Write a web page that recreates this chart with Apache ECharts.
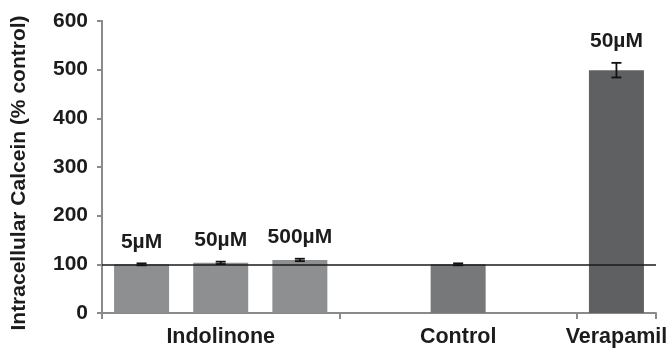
<!DOCTYPE html>
<html><head><meta charset="utf-8">
<script src="https://cdn.jsdelivr.net/npm/echarts@6/dist/echarts.min.js"></script>
<style>html,body{margin:0;padding:0;background:#fff}#c{width:672px;height:352px}</style>
</head><body><div id="c"></div>
<script>
// Data
const slots = ['Indolinone 5µM','Indolinone 50µM','Indolinone 500µM','gap A','Control','gap B','Verapamil 50µM'];
const values = [100, 103, 109, null, 100, null, 499];
const errors = [2, 2.5, 2.5, null, 2, null, 15];
const doseLabels = ['5µM','50µM','500µM','','','','50µM'];
const groupLabels = ['','Indolinone','','','Control','','Verapamil'];
const yMin = 0, yMax = 600, yStep = 100;
const referenceLevel = 100;

// Styles
const barColors = ['#8e8f91','#8e8f91','#8e8f91',null,'#77787a',null,'#5f6062'];
const FONT = 'Liberation Sans';
const axisGray = '#8a8a8a';
const textColor = '#1c1c1c';

const chart = echarts.init(document.getElementById('c'), null, {renderer:'canvas'});
chart.setOption({
  animation:false,
  backgroundColor:'#fff',
  grid:{left:102,right:16,top:21,bottom:39},
  xAxis:{
    type:'category', data:slots, boundaryGap:true,
    axisLine:{lineStyle:{color:axisGray,width:2}},
    axisTick:{show:true,length:6,lineStyle:{color:axisGray,width:2},
      interval:function(i){return i===0||i===3||i===6;}},
    axisLabel:{interval:0,margin:13,formatter:function(v,i){return groupLabels[i];},
      fontFamily:FONT,fontWeight:'bold',fontSize:21.5,color:textColor}
  },
  yAxis:{
    type:'value', min:yMin, max:yMax, interval:yStep,
    name:'Intracellular Calcein (% control)', nameLocation:'middle', nameGap:72,
    nameTextStyle:{fontFamily:FONT,fontWeight:'bold',fontSize:21,color:textColor,padding:[0,12,0,0]},
    axisLine:{show:true,lineStyle:{color:axisGray,width:2}},
    axisTick:{show:true,length:5,lineStyle:{color:axisGray,width:2}},
    splitLine:{show:false},
    axisLabel:{margin:14,fontFamily:FONT,fontWeight:'bold',fontSize:21,color:textColor}
  },
  series:[
    {
      type:'bar', barWidth:55,
      data:values.map(function(v,i){return v==null?null:{value:v,itemStyle:{color:barColors[i]}};}),
      markLine:{silent:true,symbol:'none',label:{show:false},
        lineStyle:{color:'#1a1a1a',width:1.6,type:'solid'},
        data:[{yAxis:referenceLevel}]},
      z:2
    },
    {
      type:'custom', z:5,
      data:values.map(function(v,i){return [i, v, errors[i]];}),
      renderItem:function(params, api){
        const i = api.value(0), v = api.value(1), e = api.value(2);
        if (v == null || isNaN(v)) return null;
        const top = api.coord([i, v + e]);
        const bot = api.coord([i, v - e]);
        const x = top[0], hw = 5;
        const st = {stroke:'#111', lineWidth:1.8};
        const children = [
          {type:'line',shape:{x1:x,y1:top[1],x2:x,y2:bot[1]},style:st},
          {type:'line',shape:{x1:x-hw,y1:top[1],x2:x+hw,y2:top[1]},style:st},
          {type:'line',shape:{x1:x-hw,y1:bot[1],x2:x+hw,y2:bot[1]},style:st}
        ];
        if (doseLabels[i]) {
          children.push({type:'text',style:{text:doseLabels[i],x:x,y:top[1]-21.5,
            align:'center',verticalAlign:'middle',
            font:'bold 21px "'+FONT+'"',fill:textColor}});
        }
        return {type:'group',children:children};
      }
    }
  ]
});
</script></body></html>
